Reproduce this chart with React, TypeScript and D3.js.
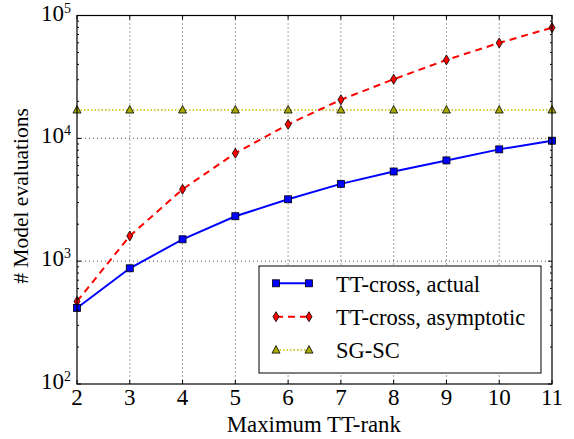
import React from 'react';
import * as d3 from 'd3';

const ranks = [2, 3, 4, 5, 6, 7, 8, 9, 10, 11];
const ttActual = [416, 875, 1507, 2322, 3190, 4260, 5370, 6610, 8130, 9570];
const ttAsymptotic = [470, 1604, 3850, 7570, 13000, 20600, 30300, 43500, 59800, 79600];
const sgsc = [17000, 17000, 17000, 17000, 17000, 17000, 17000, 17000, 17000, 17000];
const yExponents = [2, 3, 4, 5];
const seriesNames = ['TT-cross, actual', 'TT-cross, asymptotic', 'SG-SC'];

const margin = { left: 77, right: 22, top: 15.5, bottom: 55 };
const W = 574, H = 439;
const width = W - margin.left - margin.right;
const height = H - margin.top - margin.bottom;
const font = 'Liberation Serif';

const App = () => {
  const x = d3.scaleLinear().domain([2, 11]).range([0, width]);
  const y = d3.scaleLog().domain([100, 100000]).range([height, 0]);

  const line = d3.line<number>()
    .x((d, i) => x(ranks[i]))
    .y(d => y(d));

  const minor: number[] = [];
  for (let e = 2; e < 5; e++) {
    for (let k = 2; k <= 9; k++) minor.push(k * Math.pow(10, e));
  }

  return (
    <svg width={W} height={H} style={{ position: 'absolute', left: 0, top: 0, background: '#fff' }}>
      <g transform={`translate(${margin.left},${margin.top})`}>
        {/* grid */}
        {ranks.slice(1, -1).map(r => (
          <line key={'gx' + r} x1={x(r)} x2={x(r)} y1={0} y2={height}
            stroke="#000" strokeWidth={1} strokeDasharray="1,3" opacity={0.7} />
        ))}
        {yExponents.slice(1, -1).map(e => (
          <line key={'gy' + e} x1={0} x2={width} y1={y(Math.pow(10, e))} y2={y(Math.pow(10, e))}
            stroke="#000" strokeWidth={1} strokeDasharray="1,3" opacity={0.7} />
        ))}

        {/* series */}
        <path d={line(sgsc) || ''} fill="none" stroke="#bfbf00" strokeWidth={1.5} strokeDasharray="1.5,2" />
        <path d={line(ttAsymptotic) || ''} fill="none" stroke="#ff0000" strokeWidth={2} strokeDasharray="7,5" />
        <path d={line(ttActual) || ''} fill="none" stroke="#0000ff" strokeWidth={2} />

        {sgsc.map((v, i) => (
          <path key={'t' + i} transform={`translate(${x(ranks[i])},${y(v)})`}
            d="M0,-4.5L4,3L-4,3Z" fill="#a8a800" stroke="#000" strokeWidth={0.8} />
        ))}
        {ttAsymptotic.map((v, i) => (
          <path key={'d' + i} transform={`translate(${x(ranks[i])},${y(v)})`}
            d="M0,-5L3,0L0,5L-3,0Z" fill="#ff0000" stroke="#000" strokeWidth={0.8} />
        ))}
        {ttActual.map((v, i) => (
          <rect key={'s' + i} x={x(ranks[i]) - 3.5} y={y(v) - 3.5} width={7} height={7}
            fill="#0000ff" stroke="#000" strokeWidth={0.8} />
        ))}

        {/* frame */}
        <rect x={0} y={0} width={width} height={height} fill="none" stroke="#000" strokeWidth={1.2} />

        {/* ticks */}
        {ranks.map(r => (
          <g key={'tx' + r}>
            <line x1={x(r)} x2={x(r)} y1={height} y2={height - 4} stroke="#000" />
            <line x1={x(r)} x2={x(r)} y1={0} y2={4} stroke="#000" />
            <text x={x(r)} y={height + 21} textAnchor="middle" fontFamily={font} fontSize={23}>{r}</text>
          </g>
        ))}
        {yExponents.map(e => (
          <g key={'ty' + e}>
            <line x1={0} x2={4} y1={y(Math.pow(10, e))} y2={y(Math.pow(10, e))} stroke="#000" />
            <line x1={width} x2={width - 4} y1={y(Math.pow(10, e))} y2={y(Math.pow(10, e))} stroke="#000" />
            <text x={-6} y={y(Math.pow(10, e)) + 5} textAnchor="end" fontFamily={font} fontSize={23}>
              10<tspan fontSize={14} dy={-8}>{e}</tspan>
            </text>
          </g>
        ))}
        {minor.map(v => (
          <g key={'m' + v}>
            <line x1={0} x2={2} y1={y(v)} y2={y(v)} stroke="#000" />
            <line x1={width} x2={width - 2} y1={y(v)} y2={y(v)} stroke="#000" />
          </g>
        ))}

        {/* axis labels */}
        <text x={(225 + 402.7) / 2 - margin.left} y={431.5 - margin.top} textAnchor="middle"
          fontFamily={font} fontSize={22.8}>Maximum TT-rank</text>
        <text transform={`translate(${27.5 - margin.left},${196 - margin.top}) rotate(-90)`} textAnchor="middle"
          fontFamily={font} fontSize={21.5}># Model evaluations</text>

        {/* legend */}
        <g transform={`translate(${259 - margin.left},${266 - margin.top})`}>
          <rect x={0} y={0} width={282} height={107} fill="#fff" stroke="#000" strokeWidth={1} />
          {seriesNames.map((name, i) => {
            const ly = 17.3 + i * 33.4;
            return (
              <g key={name} transform={`translate(0,${ly})`}>
                {i === 0 && <line x1={17} x2={50} y1={0} y2={0} stroke="#0000ff" strokeWidth={2} />}
                {i === 1 && <line x1={17} x2={50} y1={0} y2={0} stroke="#ff0000" strokeWidth={2} strokeDasharray="7,5" />}
                {i === 2 && <line x1={17} x2={50} y1={0} y2={0} stroke="#bfbf00" strokeWidth={1.5} strokeDasharray="1.5,2" />}
                {[17, 50].map(mx => i === 0
                  ? <rect key={mx} x={mx - 3.5} y={-3.5} width={7} height={7} fill="#0000ff" stroke="#000" strokeWidth={0.8} />
                  : i === 1
                    ? <path key={mx} transform={`translate(${mx},0)`} d="M0,-5L3,0L0,5L-3,0Z" fill="#ff0000" stroke="#000" strokeWidth={0.8} />
                    : <path key={mx} transform={`translate(${mx},0)`} d="M0,-4.5L4,3L-4,3Z" fill="#a8a800" stroke="#000" strokeWidth={0.8} />
                )}
                <text x={77} y={8.3} fontFamily={font} fontSize={22.5}>{name}</text>
              </g>
            );
          })}
        </g>
      </g>
    </svg>
  );
};

export default App;
